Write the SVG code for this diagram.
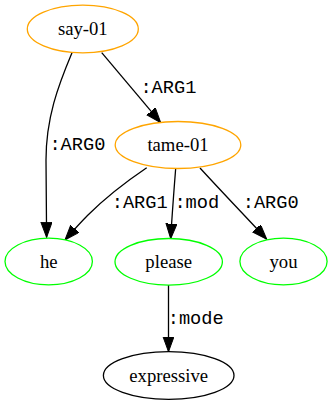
<svg xmlns="http://www.w3.org/2000/svg" width="332" height="407" viewBox="0 0 332 407">
  <style>
    .node ellipse { fill: #ffffff; stroke-width: 1.3; }
    .concept { stroke: #ffa500; }
    .const { stroke: #00ff00; }
    .plain { stroke: #000000; }
    .node text { font-family: 'Liberation Serif', 'DejaVu Serif', serif; font-size: 18.7px; fill: #000; text-anchor: middle; }
    .edge path { fill: none; stroke: #000; stroke-width: 1.3; marker-end: url(#arrow); }
    .edge text { font-family: 'Liberation Mono', 'DejaVu Sans Mono', monospace; font-size: 18.7px; fill: #000; }
  </style>
  <defs>
    <marker id="arrow" markerUnits="userSpaceOnUse" markerWidth="16" markerHeight="12" refX="15" refY="5.5" orient="auto">
      <path d="M0,0 L15,5.5 L0,11 Z" fill="#000" stroke="#000" stroke-width="1"/>
    </marker>
  </defs>
  <rect width="332" height="407" fill="#ffffff"/>

  <g id="edges">
    <g class="edge" id="e-say-he">
      <path d="M72,52.7 C58,86 46,118 46,160 C46,190 46.4,215 46.6,237.3"/>
      <text x="49.4" y="150" font-family="Liberation Mono, monospace">:ARG0</text>
    </g>
    <g class="edge" id="e-say-tame">
      <path d="M101.7,52.7 L160.7,122.7"/>
      <text x="140.4" y="93" font-family="Liberation Mono, monospace">:ARG1</text>
    </g>
    <g class="edge" id="e-tame-he">
      <path d="M146.7,167.7 C127,181 106,197 88,215 C80,223 72,232 65,240"/>
      <text x="111.7" y="207.5" font-family="Liberation Mono, monospace">:ARG1</text>
    </g>
    <g class="edge" id="e-tame-please">
      <path d="M175.7,168.3 C174,190 172,215 170.7,238.7"/>
      <text x="174.4" y="207.5" font-family="Liberation Mono, monospace">:mod</text>
    </g>
    <g class="edge" id="e-tame-you">
      <path d="M200,168 C222,192 246,217 266.7,239.3"/>
      <text x="242.7" y="207.5" font-family="Liberation Mono, monospace">:ARG0</text>
    </g>
    <g class="edge" id="e-please-expressive">
      <path d="M168.5,285 L168.5,351.7"/>
      <text x="167.7" y="324" font-family="Liberation Mono, monospace">:mode</text>
    </g>
  </g>

  <g class="node" id="n-say-01">
    <ellipse class="concept" cx="82.8" cy="29" rx="55.5" ry="23.8"/>
    <text x="82.8" y="35" font-family="Liberation Serif, serif">say-01</text>
  </g>
  <g class="node" id="n-tame-01">
    <ellipse class="concept" cx="178" cy="145" rx="62.8" ry="23.5"/>
    <text x="178" y="151" font-family="Liberation Serif, serif">tame-01</text>
  </g>
  <g class="node" id="n-he">
    <ellipse class="const" cx="48.7" cy="261.5" rx="43.7" ry="23.3"/>
    <text x="48.7" y="267.5" font-family="Liberation Serif, serif">he</text>
  </g>
  <g class="node" id="n-please">
    <ellipse class="const" cx="168.7" cy="261.8" rx="53.7" ry="23.3"/>
    <text x="168.7" y="267.8" font-family="Liberation Serif, serif">please</text>
  </g>
  <g class="node" id="n-you">
    <ellipse class="const" cx="283.5" cy="261.5" rx="43.6" ry="23.3"/>
    <text x="283.5" y="267.5" font-family="Liberation Serif, serif">you</text>
  </g>
  <g class="node" id="n-expressive">
    <ellipse class="plain" cx="168.7" cy="375.5" rx="65.3" ry="23.8"/>
    <text x="168.7" y="381.5" font-family="Liberation Serif, serif">expressive</text>
  </g>
</svg>
